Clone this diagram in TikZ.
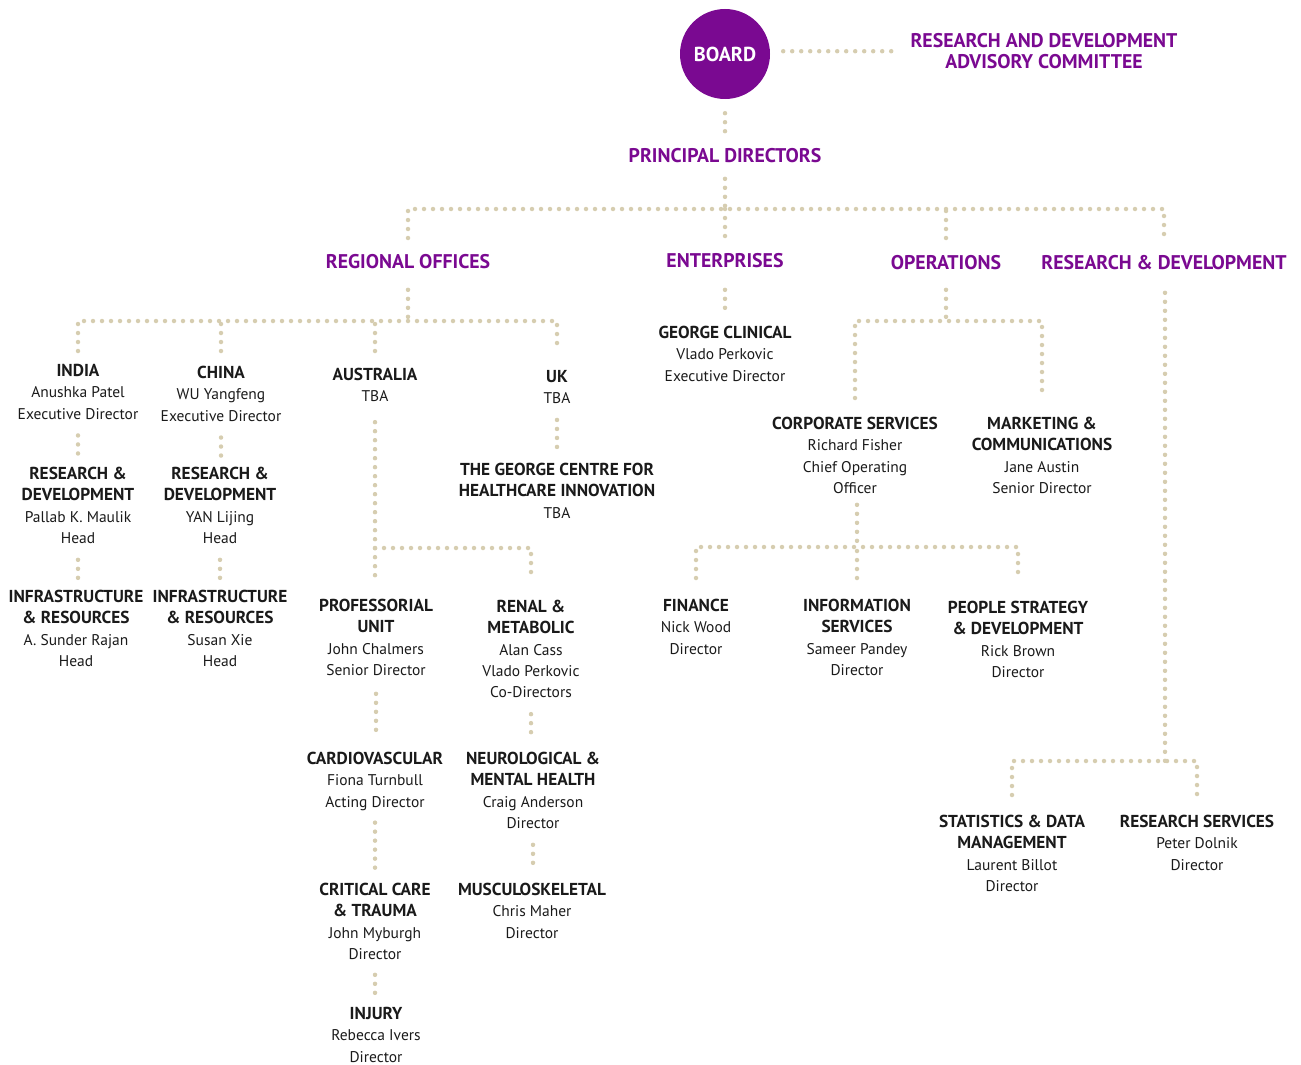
\documentclass[tikz,border=0pt]{standalone}
\usepackage{fontspec}
\setmainfont{PT Sans}
\usetikzlibrary{calc}
\definecolor{gpurple}{RGB}{122,9,145}
\definecolor{gdot}{RGB}{214,205,176}
\definecolor{gtext}{RGB}{26,26,26}
\newcommand\bt[1]{{\fontsize{17.3}{21.3}\selectfont\bfseries #1}}
\begin{document}
\begin{tikzpicture}[x=1pt,y=-1pt,
  dots/.style={draw=gdot, line width=4.5pt, line cap=round, dash pattern=on 0pt off 9pt},
  box/.style={align=center, inner sep=0pt, anchor=north, text=gtext, font=\fontsize{15.5}{21.3}\selectfont},
  head/.style={box, text=gpurple, font=\fontsize{19.8}{21.6}\selectfont\bfseries},
  boardnode/.style={circle, fill=gpurple, minimum size=90pt, inner sep=0pt, text=white, font=\fontsize{20.2}{22}\selectfont\bfseries}]
\useasboundingbox (0,0) rectangle (1301,1065);

% ---------- nodes ----------
\node[boardnode] (board) at (725,54) {BOARD};
\node[head] (rdac) at (1044,33) {RESEARCH AND DEVELOPMENT\\ADVISORY COMMITTEE};
\node[head] (pd) at (725,148) {PRINCIPAL DIRECTORS};
\node[head] (ro) at (408,254) {REGIONAL OFFICES};
\node[head] (ent) at (725,253) {ENTERPRISES};
\node[head] (ops) at (946,255) {OPERATIONS};
\node[head] (rnd) at (1164,255) {RESEARCH \& DEVELOPMENT};

\node[box] (india) at (78,364) {\bt{INDIA}\\Anushka Patel\\Executive Director};
\node[box] (china) at (221,366) {\bt{CHINA}\\WU Yangfeng\\Executive Director};
\node[box] (aus) at (375,368) {\bt{AUSTRALIA}\\TBA};
\node[box] (uk) at (557,370) {\bt{UK}\\TBA};
\node[box] (indrd) at (78,467) {\bt{RESEARCH \&}\\\bt{DEVELOPMENT}\\Pallab K. Maulik\\Head};
\node[box] (chnrd) at (220,467) {\bt{RESEARCH \&}\\\bt{DEVELOPMENT}\\YAN Lijing\\Head};
\node[box] (indinf) at (76,590) {\bt{INFRASTRUCTURE}\\\bt{\& RESOURCES}\\A. Sunder Rajan\\Head};
\node[box] (chninf) at (220,590) {\bt{INFRASTRUCTURE}\\\bt{\& RESOURCES}\\Susan Xie\\Head};
\node[box] (gchi) at (557,463) {\bt{THE GEORGE CENTRE FOR}\\\bt{HEALTHCARE INNOVATION}\\TBA};
\node[box] (prof) at (376,599) {\bt{PROFESSORIAL}\\\bt{UNIT}\\John Chalmers\\Senior Director};
\node[box] (renal) at (531,600) {\bt{RENAL \&}\\\bt{METABOLIC}\\Alan Cass\\Vlado Perkovic\\Co-Directors};
\node[box] (cardio) at (375,752) {\bt{CARDIOVASCULAR}\\Fiona Turnbull\\Acting Director};
\node[box] (neuro) at (533,752) {\bt{NEUROLOGICAL \&}\\\bt{MENTAL HEALTH}\\Craig Anderson\\Director};
\node[box] (crit) at (375,883) {\bt{CRITICAL CARE}\\\bt{\& TRAUMA}\\John Myburgh\\Director};
\node[box] (musc) at (532,883) {\bt{MUSCULOSKELETAL}\\Chris Maher\\Director};
\node[box] (injury) at (376,1007) {\bt{INJURY}\\Rebecca Ivers\\Director};
\node[box] (gc) at (725,326) {\bt{GEORGE CLINICAL}\\Vlado Perkovic\\Executive Director};
\node[box] (corp) at (855,417) {\bt{CORPORATE SERVICES}\\Richard Fisher\\Chief Operating\\Officer};
\node[box] (mkt) at (1042,417) {\bt{MARKETING \&}\\\bt{COMMUNICATIONS}\\Jane Austin\\Senior Director};
\node[box] (fin) at (696,599) {\bt{FINANCE}\\Nick Wood\\Director};
\node[box] (info) at (857,599) {\bt{INFORMATION}\\\bt{SERVICES}\\Sameer Pandey\\Director};
\node[box] (people) at (1018,601) {\bt{PEOPLE STRATEGY}\\\bt{\& DEVELOPMENT}\\Rick Brown\\Director};
\node[box] (stats) at (1012,815) {\bt{STATISTICS \& DATA}\\\bt{MANAGEMENT}\\Laurent Billot\\Director};
\node[box] (rsrv) at (1197,815) {\bt{RESEARCH SERVICES}\\Peter Dolnik\\Director};

% ---------- bus coordinates ----------
\coordinate (busT) at (725,209);
\coordinate (busR) at (408,321);
\coordinate (busA) at (375,548);
\coordinate (busO) at (946,321);
\coordinate (busC) at (857,547);
\coordinate (busD) at (1165,761);

% ---------- connectors ----------
\draw[dots, shorten <=13pt, shorten >=14pt] (board.east |- rdac.west) -- (rdac.west);
\draw[dots] ($(board.south)+(0,14)$) -- ($(pd.north)+(0,-13)$);
\draw[dots] ($(pd.south)+(0,16)$) -- (busT);
\draw[dots] ($(ro.north)+(0,-16)$) |- (busT) -| ($(rnd.north)+(0,-17)$);
\draw[dots] (busT) -- ($(ent.north)+(0,-15)$);
\draw[dots] ($(ops.north)+(0,-17)$) -- (ops.north |- busT);

% regional offices
\draw[dots] ($(ro.south)+(0,21)$) -- (busR);
\draw[dots] ($(india.north)+(0,-13)$) |- (busR) -| ($(uk.north)+(0,-19)$);
\draw[dots] ($(china.north)+(0,-15)$) -- (china.north |- busR);
\draw[dots] ($(aus.north)+(0,-17)$) -- (aus.north |- busR);
\draw[dots] ($(india.south)+(0,16)$) -- ($(india.south |- indrd.north)+(0,-12)$);
\draw[dots] ($(indrd.south)+(0,16)$) -- ($(indrd.south |- indinf.north)+(0,-12)$);
\draw[dots] ($(china.south)+(0,16)$) -- ($(china.south |- chnrd.north)+(0,-11)$);
\draw[dots] ($(chnrd.south)+(0,16)$) -- ($(chnrd.south |- chninf.north)+(0,-12)$);
\draw[dots] ($(uk.south)+(0,16)$) -- ($(uk.south |- gchi.north)+(0,-15)$);

% australia
\draw[dots] ($(aus.south)+(0,20)$) -- ($(aus.south |- prof.north)+(0,-21)$);
\draw[dots] (busA) -| ($(renal.north)+(0,-22)$);
\draw[dots] ($(prof.south)+(0,18)$) -- ($(prof.south |- cardio.north)+(0,-14)$);
\draw[dots] ($(renal.south)+(0,16)$) -- ($(renal.south |- neuro.north)+(0,-14)$);
\draw[dots] ($(cardio.south)+(0,12)$) -- ($(cardio.south |- crit.north)+(0,-13)$);
\draw[dots] ($(neuro.south)+(0,16)$) -- ($(neuro.south |- musc.north)+(0,-13)$);
\draw[dots] ($(crit.south)+(0,15)$) -- ($(crit.south |- injury.north)+(0,-12)$);

% enterprises
\draw[dots] ($(ent.south)+(0,22)$) -- ($(gc.north)+(0,-14)$);

% operations
\draw[dots] ($(ops.south)+(0,20)$) -- (busO);
\draw[dots] ($(corp.north)+(0,-19)$) |- (busO) -| ($(mkt.north)+(0,-19)$);
\draw[dots] ($(corp.south -| busC)+(0,11)$) -- (busC);
\draw[dots] ($(fin.north)+(0,-21)$) |- (busC) -| ($(people.north)+(0,-23)$);
\draw[dots] ($(info.north)+(0,-21)$) -- (info.north |- busC);

% research & development
\draw[dots] ($(rnd.south -| busD)+(0,23)$) -- (busD);
\draw[dots] ($(stats.north)+(0,-20)$) |- (busD) -| ($(rsrv.north)+(0,-20)$);
\end{tikzpicture}
\end{document}
